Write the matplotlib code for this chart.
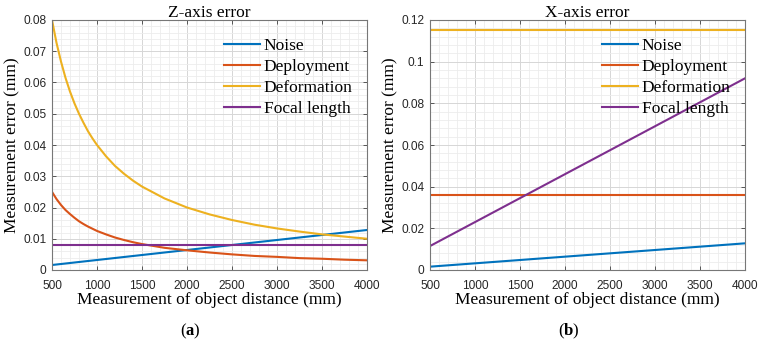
import numpy as np
import matplotlib
matplotlib.use('Agg')
import matplotlib.pyplot as plt
from matplotlib.ticker import MultipleLocator, FuncFormatter

plt.rcParams['font.family'] = 'Liberation Serif'
plt.rcParams['mathtext.fontset'] = 'custom'
plt.rcParams['mathtext.rm'] = 'Liberation Serif'
plt.rcParams['mathtext.bf'] = 'Liberation Serif:bold'

# ---- data ----
labels = ['Noise', 'Deployment', 'Deformation', 'Focal length']
colors = ['#0072BD', '#D95319', '#EDB120', '#7E2F8E']

# Z-axis panel
z_curve_x = [500, 550, 600, 650, 700, 750, 800, 850, 900, 950, 1000,
             1100, 1200, 1300, 1400, 1500, 1750, 2000, 2250, 2500,
             2750, 3000, 3250, 3500, 3750, 4000]
z_deform = [0.0800, 0.0727, 0.0667, 0.0615, 0.0571, 0.0533, 0.0500, 0.0471,
            0.0444, 0.0421, 0.0400, 0.0364, 0.0333, 0.0308, 0.0286, 0.0267,
            0.0229, 0.0200, 0.0178, 0.0160, 0.0145, 0.0133, 0.0123, 0.0114,
            0.0107, 0.0100]
z_deploy = [0.0250, 0.0227, 0.0208, 0.0192, 0.0179, 0.0167, 0.0156, 0.0147,
            0.0139, 0.0132, 0.0125, 0.0114, 0.0104, 0.0096, 0.0089, 0.0083,
            0.0071, 0.0063, 0.0056, 0.0050, 0.0045, 0.0042, 0.0038, 0.0036,
            0.0033, 0.0031]
line_x = [500, 4000]
z_noise = [0.0016, 0.0128]
z_focal = [0.0080, 0.0080]

# X-axis panel
x_noise = [0.0016, 0.0128]
x_deploy = [0.0360, 0.0360]
x_deform = [0.1150, 0.1150]
x_focal = [0.0115, 0.0920]

W, H = 761, 340
fig = plt.figure(figsize=(W / 100, H / 100), dpi=100)
ax1 = fig.add_axes([52 / W, 70 / H, 315 / W, 250 / H])
ax2 = fig.add_axes([430 / W, 70 / H, 315 / W, 250 / H])


def fmt(v, pos):
    return '%g' % round(v, 4)


def style(ax, ymax, ymajor, yminor, title):
    ax.set_xlim(500, 4000)
    ax.set_ylim(0, ymax)
    ax.xaxis.set_major_locator(MultipleLocator(500))
    ax.xaxis.set_minor_locator(MultipleLocator(100))
    ax.yaxis.set_major_locator(MultipleLocator(ymajor))
    ax.yaxis.set_minor_locator(MultipleLocator(yminor))
    ax.yaxis.set_major_formatter(FuncFormatter(fmt))
    ax.grid(True, which='major', color='#d6d6d6', lw=0.7)
    ax.grid(True, which='minor', color='#ececec', lw=0.6)
    ax.set_axisbelow(True)
    ax.tick_params(which='major', direction='in', length=3, width=0.7,
                   top=True, right=True, color='#555555')
    ax.tick_params(axis='x', pad=7.5)
    ax.tick_params(axis='y', pad=4)
    ax.tick_params(which='minor', length=0)
    for lab in ax.get_xticklabels() + ax.get_yticklabels():
        lab.set_family('Liberation Sans')
        lab.set_fontsize(8.6)
        lab.set_color('#262626')
    for s in ax.spines.values():
        s.set_color('#777777')
        s.set_linewidth(0.8)
    ax.set_title(title, fontsize=12.5, pad=2)
    ax.set_xlabel('Measurement of object distance (mm)', fontsize=12.5, labelpad=0)
    ax.set_ylabel('Measurement error (mm)', fontsize=12.5, labelpad=2)
    ax.legend(loc='upper left', bbox_to_anchor=(0.545, 0.93), frameon=False,
              fontsize=12.5, borderpad=0, borderaxespad=0, handlelength=2.1,
              handletextpad=0.2, labelspacing=0.28)


ax1.plot(line_x, z_noise, color=colors[0], lw=1.5, label=labels[0])
ax1.plot(z_curve_x, z_deploy, color=colors[1], lw=1.5, label=labels[1])
ax1.plot(z_curve_x, z_deform, color=colors[2], lw=1.5, label=labels[2])
ax1.plot(line_x, z_focal, color=colors[3], lw=1.5, label=labels[3])
style(ax1, 0.08, 0.01, 0.002, 'Z-axis error')

ax2.plot(line_x, x_noise, color=colors[0], lw=1.5, label=labels[0])
ax2.plot(line_x, x_deploy, color=colors[1], lw=1.5, label=labels[1])
ax2.plot(line_x, x_deform, color=colors[2], lw=1.5, label=labels[2])
ax2.plot(line_x, x_focal, color=colors[3], lw=1.5, label=labels[3])
style(ax2, 0.12, 0.02, 0.004, 'X-axis error')

fig.text(190 / W, 1 - 331 / H, r'($\mathbf{a}$)', ha='center', va='center', fontsize=12)
fig.text(569 / W, 1 - 331 / H, r'($\mathbf{b}$)', ha='center', va='center', fontsize=12)

fig.savefig('out.png', dpi=100, facecolor='white')
